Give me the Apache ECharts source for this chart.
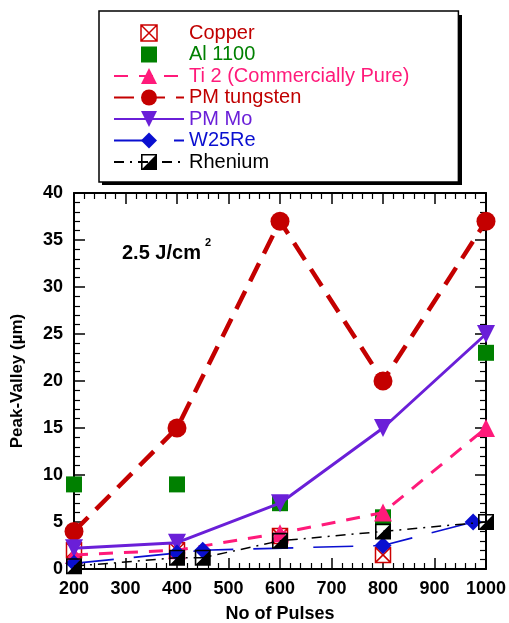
<!DOCTYPE html>
<html>
<head>
<meta charset="utf-8">
<script src="https://cdn.jsdelivr.net/npm/echarts@6/dist/echarts.min.js"></script>
<style>
html,body{margin:0;padding:0;background:#fff;}
#chart{width:509px;height:623px;}
</style>
</head>
<body>
<div id="chart"></div>
<script>
// ---- data ----
const xTicks = [200, 300, 400, 500, 600, 700, 800, 900, 1000];
const yTicks = [0, 5, 10, 15, 20, 25, 30, 35, 40];

const copperX = [200, 400, 600, 800];
const copperY = [2, 2, 3.5, 1.5];

const alX = [200, 400, 600, 800, 1000];
const alY = [9, 9, 7, 5.5, 23];

const tiX = [200, 400, 600, 800, 1000];
const tiY = [1.5, 2, 3.8, 6, 15];

const tungX = [200, 400, 600, 800, 1000];
const tungY = [4, 15, 37, 20, 37];

const moX = [200, 400, 600, 800, 1000];
const moY = [2.2, 2.8, 7, 15, 25];

const w25X = [200, 400, 450, 800, 975];
const w25Y = [0.6, 1.7, 2, 2.5, 5];

const reX = [200, 400, 450, 600, 800, 1000];
const reY = [0.3, 1.2, 1.2, 3, 4, 5];

const names = ['Copper', 'Al 1100', 'Ti 2 (Commercially Pure)', 'PM tungsten', 'PM Mo', 'W25Re', 'Rhenium'];

function pairs(xs, ys) { return xs.map((x, i) => [x, ys[i]]); }

const FONT = 'Liberation Sans, Arial, Helvetica, sans-serif';
const copperPath = 'path://M0,0L10,0L10,10L0,10Z M0,0L10,10 M10,0L0,10';
const rhePath = 'path://M0,0L10,0L10,10L0,10Z M1,1L1,9L9,9L9,1Z M9,1L9,9L1,9Z';

const colors = {
  copper: '#cc0000', al: '#008000', ti: '#ff1a7a', tung: '#c40000',
  mo: '#6a1fd8', w25: '#0a0fd0', re: '#000000'
};

const chart = echarts.init(document.getElementById('chart'), null, {renderer: 'canvas'});

const baseX = {
  type: 'value', min: 200, max: 1000, interval: 100,
  axisLine: {show: true, onZero: false, lineStyle: {color: '#000', width: 2}},
  axisTick: {show: true, inside: true, length: 11, lineStyle: {color: '#000', width: 1.5}},
  minorTick: {show: true, splitNumber: 5, length: 6, lineStyle: {color: '#000', width: 1.2}},
  splitLine: {show: false}
};
const baseY = {
  type: 'value', min: 0, max: 40, interval: 5,
  axisLine: {show: true, onZero: false, lineStyle: {color: '#000', width: 2}},
  axisTick: {show: true, inside: true, length: 11, lineStyle: {color: '#000', width: 1.5}},
  minorTick: {show: true, splitNumber: 5, length: 6, lineStyle: {color: '#000', width: 1.2}},
  splitLine: {show: false}
};

const option = {
  backgroundColor: '#fff',
  animation: false,
  grid: {left: 74, right: 23, top: 193, bottom: 54, containLabel: false, outerBoundsMode: 'none'},
  xAxis: [
    Object.assign({}, baseX, {
      position: 'bottom',
      axisLabel: {show: true, color: '#000', fontSize: 18, fontWeight: 'bold', fontFamily: FONT, margin: 11,
        formatter: v => xTicks.includes(v) ? String(v) : ''},
      name: 'No of Pulses', nameLocation: 'middle', nameGap: 36,
      nameTextStyle: {color: '#000', fontSize: 18, fontWeight: 'bold', fontFamily: FONT}
    }),
    Object.assign({}, baseX, {position: 'top', axisLabel: {show: false}})
  ],
  yAxis: [
    Object.assign({}, baseY, {
      position: 'left',
      axisLabel: {show: true, color: '#000', fontSize: 18, fontWeight: 'bold', fontFamily: FONT, margin: 11,
        formatter: v => yTicks.includes(v) ? String(v) : ''},
      name: 'Peak-Valley (µm)', nameLocation: 'middle', nameGap: 48, nameRotate: 90,
      nameTextStyle: {color: '#000', fontSize: 17, fontWeight: 'bold', fontFamily: FONT}
    }),
    Object.assign({}, baseY, {position: 'right', axisLabel: {show: false}})
  ],
  legend: {
    orient: 'vertical', left: 99, top: 11, align: 'left', z: 10,
    itemWidth: 70, itemHeight: 20, itemGap: 1.5,
    padding: [12, 49, 10, 14],
    backgroundColor: '#fff', borderColor: '#000', borderWidth: 1.5, borderRadius: 0,
    selectedMode: false,
    textStyle: {fontSize: 20, fontFamily: FONT, lineHeight: 20},
    data: [
      {name: names[0], textStyle: {color: '#c00000'}, itemStyle: {color: '#fff', borderColor: colors.copper, borderWidth: 1.5}},
      {name: names[1], textStyle: {color: '#008000'}},
      {name: names[2], textStyle: {color: colors.ti}},
      {name: names[3], textStyle: {color: '#c00000'}},
      {name: names[4], textStyle: {color: colors.mo}},
      {name: names[5], textStyle: {color: colors.w25}},
      {name: names[6], textStyle: {color: '#000'}}
    ]
  },
  graphic: [
    {type: 'rect', left: 102, top: 15, z: 1,
      shape: {width: 360, height: 170}, style: {fill: '#000'}},
    {type: 'text', left: 122, top: 243, z: 100,
      style: {text: '2.5 J/cm', fontSize: 20, fontWeight: 'bold', fontFamily: FONT, fill: '#000'}},
    {type: 'text', left: 205, top: 237, z: 100,
      style: {text: '2', fontSize: 11, fontWeight: 'bold', fontFamily: FONT, fill: '#000'}}
  ],
  series: [
    {name: names[0], type: 'line', data: pairs(copperX, copperY),
      symbol: copperPath, symbolSize: 15, symbolKeepAspect: true,
      itemStyle: {color: '#fff', borderColor: colors.copper, borderWidth: 1.5},
      lineStyle: {width: 0}, z: 2},
    {name: names[1], type: 'line', data: pairs(alX, alY),
      symbol: 'rect', symbolSize: 16,
      itemStyle: {color: colors.al},
      lineStyle: {width: 0}, z: 3},
    {name: names[2], type: 'line', data: pairs(tiX, tiY),
      symbol: 'triangle', symbolSize: 18,
      itemStyle: {color: colors.ti},
      lineStyle: {width: 3, color: colors.ti, type: [14, 11]}, z: 4},
    {name: names[3], type: 'line', data: pairs(tungX, tungY),
      symbol: 'circle', symbolSize: 19,
      itemStyle: {color: colors.tung},
      lineStyle: {width: 4.5, color: colors.tung, type: [20, 11]}, z: 5},
    {name: names[4], type: 'line', data: pairs(moX, moY),
      symbol: 'triangle', symbolRotate: 180, symbolSize: 18,
      itemStyle: {color: colors.mo},
      lineStyle: {width: 3, color: colors.mo}, z: 6},
    {name: names[5], type: 'line', data: pairs(w25X, w25Y),
      symbol: 'diamond', symbolSize: 17,
      itemStyle: {color: colors.w25},
      lineStyle: {width: 1.6, color: colors.w25, type: [40, 20]}, z: 7},
    {name: names[6], type: 'line', data: pairs(reX, reY),
      symbol: rhePath, symbolSize: 16, symbolKeepAspect: true,
      itemStyle: {color: '#000'},
      lineStyle: {width: 1.5, color: '#000', type: [10, 6, 2, 6]}, z: 8}
  ]
};
chart.setOption(option);
</script>
</body>
</html>
